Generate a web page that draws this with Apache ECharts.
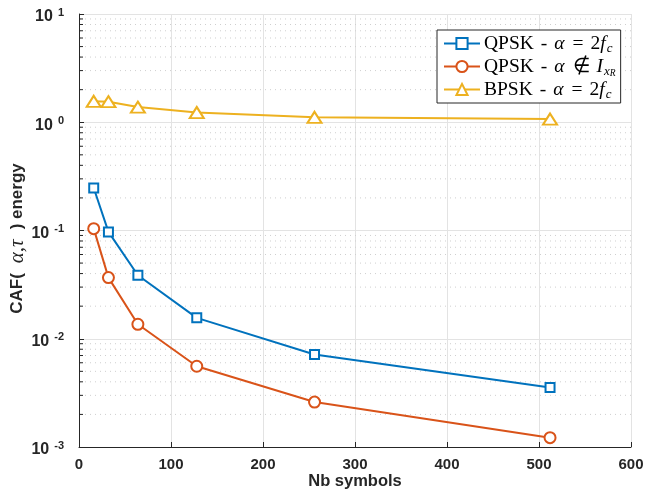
<!DOCTYPE html>
<html>
<head>
<meta charset="utf-8">
<script src="https://cdn.jsdelivr.net/npm/echarts@6/dist/echarts.min.js"></script>
<style>
html,body{margin:0;padding:0;background:#fff;}
#c{width:646px;height:498px;}
</style>
</head>
<body>
<div id="c"></div>
<script>
const nbSymbols = [16, 32, 64, 128, 256, 512];
const qpsk2fc = [0.247, 0.097, 0.0386, 0.0156, 0.00715, 0.00355];
const qpskNotI = [0.104, 0.0367, 0.0136, 0.00557, 0.0026, 0.00122];
const bpsk2fc = [1.56, 1.55, 1.38, 1.23, 1.11, 1.07];
const seriesNames = ['QPSK - α = 2fc', 'QPSK - α ∉ IxR', 'BPSK - α = 2fc'];
const xTicks = [0, 100, 200, 300, 400, 500, 600];
const yDecades = [-3, -2, -1, 0, 1];

const minorVals = [];
for (let d = -3; d < 1; d++) for (let k = 2; k <= 9; k++) minorVals.push(k * Math.pow(10, d));

const TXT = '#262626';
const GRID = '#e3e3e3';
const colors = ['#0072BD', '#D95319', '#EDB120'];

const legendFmt = {
  [seriesNames[0]]: '{n|QPSK}{o|-}{i|α}{o|=}{n|2}{i|f}{sub|c}',
  [seriesNames[1]]: '{n|QPSK}{o|-}{i|α}{o|∉}{i|I}{sub|x}{ss|R}',
  [seriesNames[2]]: '{n|BPSK}{o|-}{i|α}{o|=}{n|2}{i|f}{sub|c}'
};

const chart = echarts.init(document.getElementById('c'), null, {renderer: 'canvas'});

function mk(vals) { return nbSymbols.map((x, i) => [x, vals[i]]); }

const LH = 22;
const option = {
  animation: false,
  backgroundColor: '#fff',
  grid: {left: 79, right: 15, top: 14, bottom: 51, show: false, containLabel: false, outerBoundsMode: 'none'},
  xAxis: {
    type: 'value', min: 0, max: 600, interval: 100,
    axisLine: {show: true, onZero: false, lineStyle: {color: TXT, width: 1}},
    axisTick: {show: true, inside: true, length: 5, lineStyle: {color: TXT}},
    axisLabel: {color: TXT, fontFamily: 'Liberation Sans', fontWeight: 'bold', fontSize: 15, margin: 10},
    splitLine: {show: true, lineStyle: {color: GRID, width: 1}},
    name: 'Nb symbols', nameLocation: 'middle', nameGap: 26, nameMoveOverlap: false,
    nameTextStyle: {color: TXT, fontFamily: 'Liberation Sans', fontWeight: 'bold', fontSize: 16.5}
  },
  yAxis: {
    type: 'log', logBase: 10, min: 0.001, max: 10,
    axisLine: {show: true, lineStyle: {color: TXT, width: 1}},
    axisTick: {show: true, inside: true, length: 5, lineStyle: {color: TXT}},
    axisLabel: {
      margin: 15,
      formatter: function (v) {
        const e = Math.round(Math.log10(v));
        return '{b|10}{s|' + e + '}';
      },
      rich: {
        b: {color: TXT, fontFamily: 'Liberation Sans', fontWeight: 'bold', fontSize: 16, lineHeight: 16, padding: [6, 0, 0, 0]},
        s: {color: TXT, fontFamily: 'Liberation Sans', fontWeight: 'bold', fontSize: 11, lineHeight: 11, padding: [4, 0, 7, 5]}
      }
    },
    splitLine: {show: true, lineStyle: {color: GRID, width: 1}},
    name: '{a|CAF(}{m|α,τ}{a|) energy}', nameLocation: 'middle', nameGap: 51, nameMoveOverlap: false,
    nameTextStyle: {
      padding: [0, 16, 0, 0],
      rich: {
        a: {color: TXT, fontFamily: 'Liberation Sans', fontWeight: 'bold', fontSize: 17},
        m: {color: TXT, fontFamily: 'Liberation Serif', fontStyle: 'italic', fontSize: 21, padding: [0, 10, 0, 10]}
      }
    }
  },
  legend: {
    orient: 'vertical', left: 437, top: 30,
    data: seriesNames,
    backgroundColor: '#fff', borderColor: TXT, borderWidth: 1, borderRadius: 0,
    padding: [2, 5, 2, 6],
    itemWidth: 36, itemHeight: 14, itemGap: 0,
    formatter: function (n) { return legendFmt[n]; },
    textStyle: {
      color: '#000', padding: [0, 0, 0, -1],
      rich: {
        n: {fontFamily: 'Liberation Serif', fontSize: 19.5, color: '#000', lineHeight: LH},
        o: {fontFamily: 'Liberation Serif', fontSize: 19.5, color: '#000', lineHeight: LH, padding: [0, 7, 0, 7]},
        i: {fontFamily: 'Liberation Serif', fontStyle: 'italic', fontSize: 19.5, color: '#000', lineHeight: LH, padding: [0, 1, 0, 0]},
        sub: {fontFamily: 'Liberation Serif', fontStyle: 'italic', fontSize: 13, color: '#000', lineHeight: 12, padding: [10, 0, 0, 0]},
        ss: {fontFamily: 'Liberation Serif', fontStyle: 'italic', fontSize: 9.5, color: '#000', lineHeight: 9, padding: [13, 0, 0, 0]}
      }
    }
  },
  series: [
    {
      type: 'custom', silent: true, z: 1,
      data: minorVals.map(v => [0, v]),
      renderItem: function (params, api) {
        const v = api.value(1);
        const p0 = api.coord([0, v]);
        const p1 = api.coord([600, v]);
        return {
          type: 'group',
          children: [
            {type: 'line', shape: {x1: p0[0] + 1, y1: p0[1], x2: p1[0], y2: p1[1]},
             style: {stroke: '#cfcfcf', lineWidth: 1, lineDash: [1, 4]}},
            {type: 'line', shape: {x1: p0[0], y1: p0[1], x2: p0[0] + 4, y2: p0[1]},
             style: {stroke: TXT, lineWidth: 1}}
          ]
        };
      }
    },
    {
      name: seriesNames[0], type: 'line', z: 3, data: mk(qpsk2fc),
      symbol: 'rect', symbolSize: 9, showAllSymbol: true,
      lineStyle: {color: colors[0], width: 2},
      itemStyle: {color: '#fff', borderColor: colors[0], borderWidth: 2}
    },
    {
      name: seriesNames[1], type: 'line', z: 3, data: mk(qpskNotI),
      symbol: 'circle', symbolSize: 11, showAllSymbol: true,
      lineStyle: {color: colors[1], width: 2},
      itemStyle: {color: '#fff', borderColor: colors[1], borderWidth: 2}
    },
    {
      name: seriesNames[2], type: 'line', z: 3, data: mk(bpsk2fc),
      symbol: 'triangle', symbolSize: [14, 11], showAllSymbol: true,
      lineStyle: {color: colors[2], width: 2},
      itemStyle: {color: '#fff', borderColor: colors[2], borderWidth: 2}
    }
  ]
};
chart.setOption(option);
</script>
</body>
</html>
